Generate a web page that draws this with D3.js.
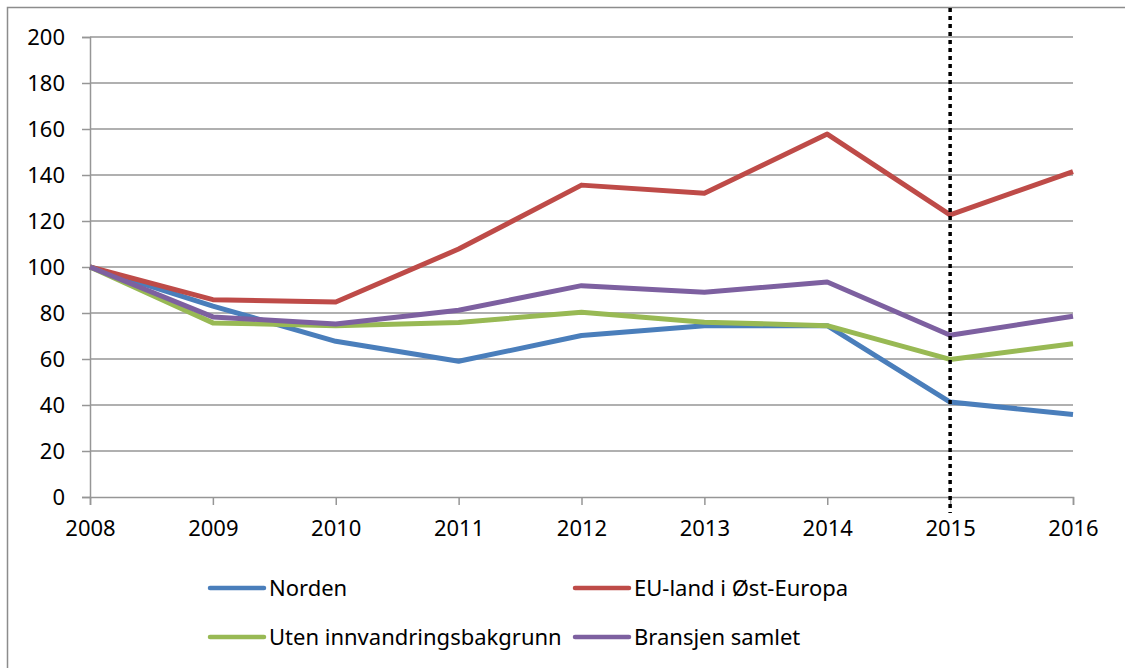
<!DOCTYPE html>
<html>
<head>
<meta charset="utf-8">
<script src="https://cdn.jsdelivr.net/npm/d3@7"></script>
<style>
  body { margin: 0; background: #fff; }
  svg { display: block; font-family: "Noto Sans", Lato, sans-serif; }
</style>
</head>
<body>
<div id="mount"></div>
<script>
'use strict';

// data (index, 2008 = 100)
const years = [2008, 2009, 2010, 2011, 2012, 2013, 2014, 2015, 2016];
const norden = [100, 83, 67.7, 59, 70.2, 74.5, 74.5, 41.3, 35.9];
const euOst = [100, 85.8, 84.8, 107.8, 135.6, 132.1, 157.8, 122.7, 141.5];
const uten = [100, 75.7, 74.5, 75.9, 80.3, 76, 74.5, 59.8, 66.6];
const bransjen = [100, 78.3, 75.2, 81.2, 91.9, 89, 93.5, 70.3, 78.6];
const yTicks = [0, 20, 40, 60, 80, 100, 120, 140, 160, 180, 200];
const markerYear = 2015;

const series = [
  { name: 'Norden', values: norden, color: '#4A7EBB' },
  { name: 'EU-land i Øst-Europa', values: euOst, color: '#BE4B48' },
  { name: 'Uten innvandringsbakgrunn', values: uten, color: '#98B954' },
  { name: 'Bransjen samlet', values: bransjen, color: '#7D60A0' }
];

const W = 1125, H = 668;
const plot = { left: 90, right: 1073, top: 37, bottom: 497 };

const svg = d3.select('#mount').append('svg')
    .attr('width', W)
    .attr('height', H);

// outer chart border (runs off the right and bottom edge)
svg.append('rect')
    .attr('x', 7.5).attr('y', 7.5)
    .attr('width', W).attr('height', H)
    .attr('fill', 'none')
    .attr('stroke', '#8c8c8c')
    .attr('stroke-width', 1.5);

const x = d3.scaleLinear()
    .domain(d3.extent(years))
    .range([plot.left, plot.right]);

const y = d3.scaleLinear()
    .domain([0, 200])
    .range([plot.bottom, plot.top]);

// horizontal grid lines
svg.append('g')
  .selectAll('line')
  .data(yTicks.filter(d => d > 0))
  .join('line')
    .attr('x1', plot.left).attr('x2', plot.right)
    .attr('y1', d => y(d)).attr('y2', d => y(d))
    .attr('stroke', '#969696')
    .attr('stroke-width', 1.5);

// y axis
const yAxis = svg.append('g')
    .attr('transform', `translate(${plot.left},0)`)
    .call(d3.axisLeft(y).tickValues(yTicks).tickSize(8).tickPadding(17));
yAxis.select('.domain').attr('stroke', '#969696').attr('stroke-width', 1.5);
yAxis.selectAll('.tick line').attr('stroke', '#969696').attr('stroke-width', 1.5);
yAxis.selectAll('.tick text')
    .attr('font-size', 22)
    .attr('font-family', '"Noto Sans", sans-serif')
    .attr('fill', '#000');

// x axis
const xAxis = svg.append('g')
    .attr('transform', `translate(0,${plot.bottom})`)
    .call(d3.axisBottom(x).tickValues(years).tickFormat(d3.format('d')).tickSize(8).tickPadding(15));
xAxis.select('.domain').attr('stroke', '#969696').attr('stroke-width', 1.5);
xAxis.selectAll('.tick line').attr('stroke', '#969696').attr('stroke-width', 1.5);
xAxis.selectAll('.tick text')
    .attr('font-size', 22)
    .attr('font-family', '"Noto Sans", sans-serif')
    .attr('fill', '#000');

// lines
const line = d3.line()
    .x((d, i) => x(years[i]))
    .y(d => y(d));

svg.append('g')
  .selectAll('path')
  .data(series)
  .join('path')
    .attr('d', d => line(d.values))
    .attr('fill', 'none')
    .attr('stroke', d => d.color)
    .attr('stroke-width', 5)
    .attr('stroke-linejoin', 'round');

// dotted marker at 2015
svg.append('line')
    .attr('x1', x(markerYear)).attr('x2', x(markerYear))
    .attr('y1', 8).attr('y2', 513)
    .attr('stroke', '#000')
    .attr('stroke-width', 3.5)
    .attr('stroke-dasharray', '4 4');

// legend, two columns
const legendPos = [[210, 588], [575, 588], [210, 637], [575, 637]];
const legend = svg.append('g')
  .selectAll('g')
  .data(series)
  .join('g')
    .attr('transform', (d, i) => `translate(${legendPos[i][0]},${legendPos[i][1]})`);

legend.append('line')
    .attr('x1', 0).attr('x2', 54)
    .attr('stroke', d => d.color)
    .attr('stroke-width', 4.5)
    .attr('stroke-linecap', 'round');

legend.append('text')
    .attr('x', 59)
    .attr('dy', '0.35em')
    .attr('font-size', 22)
    .attr('fill', '#000')
    .text(d => d.name);
</script>
</body>
</html>
